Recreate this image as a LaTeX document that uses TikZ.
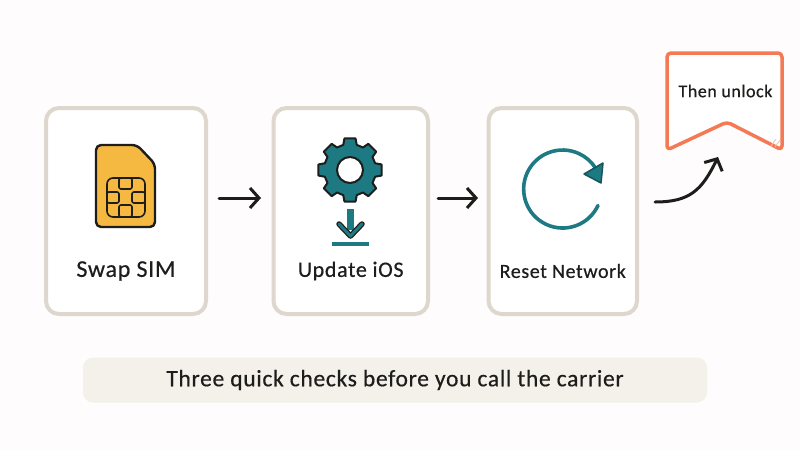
\documentclass[tikz,border=0pt]{standalone}
\usepackage{fontspec}
\setmainfont[LetterSpace=3,FakeBold=0.5]{Carlito}
\usetikzlibrary{positioning,arrows.meta}
\definecolor{colorpage}   {RGB}{254,252,253}
\definecolor{colorborder} {RGB}{221,215,205}
\definecolor{colorbanner} {RGB}{244,240,234}
\definecolor{colorsim}    {RGB}{245,185,66}
\definecolor{colorteal}   {RGB}{30,122,130}
\definecolor{colororange} {RGB}{244,122,85}
\definecolor{colortext}   {RGB}{29,29,27}

\begin{document}
\begin{tikzpicture}[
    x=1pt, y=-1pt,
    node distance = 60pt,
    base/.style={text=colortext,align=center,inner sep=0pt},
    cardbox/.style={draw=colorborder,line width=4pt,fill=white,rounded corners=13pt,minimum height=206pt,inner sep=0pt},
    flow/.style={-{Straight Barb[length=9pt,width=20pt]},line width=3pt,line cap=round,draw=colortext},
    icon/.style={draw=colortext,line width=2pt,line join=round},
    chip/.style={draw=colortext,line width=1.6pt,rounded corners=2pt},
    spin/.style={draw=colorteal,line width=3.6pt,line cap=round},
]
    \useasboundingbox[fill=colorpage] (0,0) rectangle (800,450);

    % Cards
    \node[cardbox,minimum width=160pt] (swap) at (126,211) {};
    \node[cardbox,minimum width=154.5pt,right=63.5pt of swap]   (update) {};
    \node[cardbox,minimum width=148.5pt,right=56.5pt of update] (reset)  {};

    % Text
    \node[base,font={\fontsize{24}{28}\selectfont}] (swaptxt)   at ([yshift=-60pt]swap.center)   {Swap SIM};
    \node[base,font={\fontsize{22}{26}\selectfont}] (updatetxt) at ([yshift=-60pt]update.center) {Update iOS};
    \node[base,font={\fontsize{20}{24}\selectfont}] (resettxt)  at ([yshift=-60pt]reset.center)  {Reset Network};

    % SIM card
    \draw[icon,fill=colorsim,line width=2.4pt,rounded corners=5pt] (96,145) -- (137,145) -- (155,164) -- (155,227) -- (96,227) -- cycle;
    \draw[chip,rounded corners=6pt] (107,178) rectangle (145,217);
    \draw[chip] (119,178) rectangle (132,189);
    \draw[chip] (119,205) rectangle (132,217);
    \draw[chip] (107,192) rectangle (119,203);
    \draw[chip] (132,192) rectangle (145,203);

    % Gear
    \begin{scope}[shift={(350,170)}]
        \draw[icon,fill=colorteal] (-15:26) \foreach \a in {0,45,...,315} { -- (\a-15:26) -- (\a-10:32) -- (\a+10:32) -- (\a+15:26) } -- cycle;
        \draw[icon,fill=white] (0,0) circle (13pt);
    \end{scope}

    % Download arrow
    \fill[colorteal] (347,209) rectangle (354,230);
    \draw[colortext,line width=5.5pt,line cap=round,line join=round] (339,224) -- (350.5,236) -- (362,224);
    \draw[colorteal,line width=3pt,line cap=round,line join=round] (339,224) -- (350.5,236) -- (362,224);
    \draw[colorteal,line width=4pt] (332,244) -- (369,244);

    % Reset arrow
    \draw[spin] (598,205.5) arc[start angle=25,end angle=328,radius=39];
    \draw[icon,fill=colorteal,draw=colorteal!70!black,line width=1.5pt] (584,174) -- (603,163) -- (601,183) -- cycle;

    % Then unlock badge
    \coordinate (notch) at (727,122);
    \draw[draw=colororange,line width=3.5pt,fill=white,rounded corners=4pt,line join=round]
        (667,53) -- (782,53) -- (782,150) -- (notch) -- (667,150) -- cycle;
    \draw[colororange!50,line width=.8pt] (771,146) -- (776,139);
    \draw[colororange!50,line width=.8pt] (775,147) -- (780,140);
    \node[base,font={\fontsize{18}{22}\selectfont}] (unlocktxt) at (725.5,91) {Then unlock};

    % Arrows
    \draw[flow,shorten <=11pt,shorten >=10.5pt] ([yshift=13pt]swap.east) -- ([yshift=13pt]update.west);
    \draw[flow,shorten <=8pt,shorten >=8.5pt] ([yshift=13pt]update.east) -- ([yshift=13pt]reset.west);
    \draw[flow] ([xshift=16pt,yshift=9pt]reset.east) .. controls +(35,0) and +(-16,33) .. ([xshift=-9pt,yshift=-35pt]notch);

    % Caption
    \node[base,font={\fontsize{23.5}{27}\selectfont},fill=colorbanner,rounded corners=10pt,minimum width=624pt,minimum height=45pt] (caption) at (395,380) {Three quick checks before you call the carrier};

\end{tikzpicture}
\end{document}
